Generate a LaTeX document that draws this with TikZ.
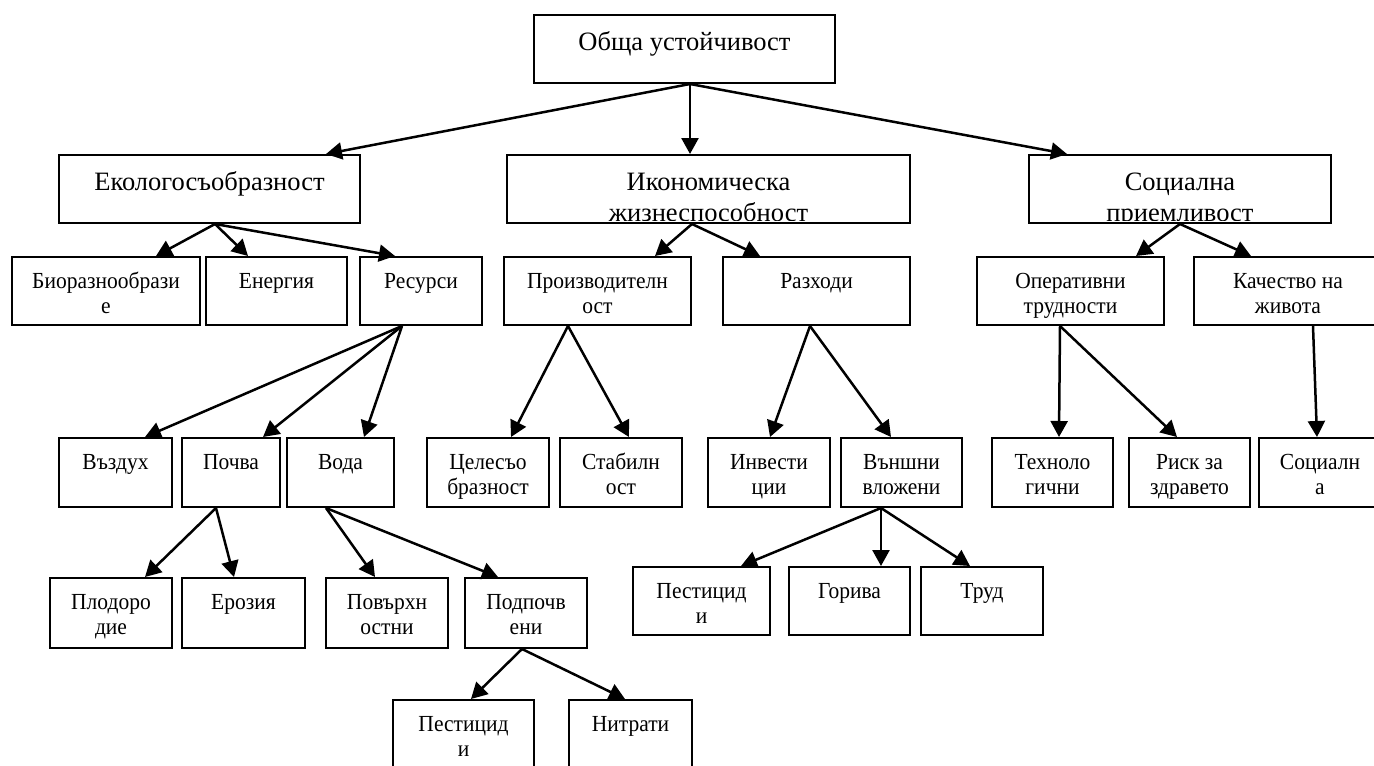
\documentclass[tikz,border=0pt]{standalone}
\usepackage{fontspec}
\setmainfont{Liberation Serif}
\newfontfamily\narrowserif[FakeStretch=0.935]{Liberation Serif}
\usetikzlibrary{arrows.meta}
\tikzset{
  box/.style={draw, line width=2pt, inner sep=0pt, anchor=north west},
  arr/.style={draw, line width=2.5pt, -{Triangle[length=16pt,width=17pt]}},
  stxt/.style={font=\narrowserif\fontsize{23}{25}\selectfont, align=center, inner sep=0pt, anchor=north, yshift=-14.5pt},
  ltxt/.style={font=\fontsize{26.5}{31}\selectfont, align=center, inner sep=0pt, anchor=north, yshift=-14.3pt},
}
\newcommand\mkbox[7]{\node[box, minimum width=#4pt, minimum height=#5pt] (#1) at (#2,#3) {};
  \node[#6] (#1-t) at (#1.north) {\strut #7};}
\newcommand\linkA[4]{\draw[arr] ([xshift=#2pt]#1.south west) -- ([xshift=#4pt]#3.north west);}
\begin{document}
\begin{tikzpicture}[x=1pt, y=-1pt]
\clip (0,0) rectangle (1374,766);
\fill[white] (0,0) rectangle (1374,766);
% level 0 and 1
\mkbox{top}{533}{14}{301}{68}{ltxt}{Обща устойчивост}
\mkbox{eko}{58}{154}{301}{68}{ltxt}{Екологосъобразност}
\node[box, minimum width=403pt, minimum height=68pt] (ikon) at (506,154) {};
\begin{scope}
  \clip ([xshift=1pt]ikon.north west) rectangle ([xshift=-1pt,yshift=4pt]ikon.south east);
  \node[ltxt] (ikon-t) at (ikon.north) {\strut Икономическа\\жизнеспособност};
\end{scope}
\node[box, minimum width=302pt, minimum height=68pt] (soc) at (1028,154) {};
\begin{scope}
  \clip ([xshift=1pt]soc.north west) rectangle ([xshift=-1pt,yshift=4pt]soc.south east);
  \node[ltxt] (soc-t) at (soc.north) {\strut Социална\\приемливост};
\end{scope}
% level 2
\mkbox{bio}{11}{256}{188}{68}{stxt}{Биоразнообрази\\е}
\mkbox{ener}{205}{256}{141}{68}{stxt}{Енергия}
\mkbox{res}{359}{256}{122}{68}{stxt}{Ресурси}
\mkbox{proiz}{503}{256}{187}{68}{stxt}{Производителн\\ост}
\mkbox{razh}{722}{256}{187}{68}{stxt}{Разходи}
\mkbox{oper}{976}{256}{187}{68}{stxt}{Оперативни\\трудности}
\mkbox{kach}{1193}{256}{188}{68}{stxt}{Качество на\\живота}
% level 3
\mkbox{vazd}{58}{437}{113}{69}{stxt}{Въздух}
\mkbox{pochva}{181}{437}{98}{69}{stxt}{Почва}
\mkbox{voda}{286}{437}{107}{69}{stxt}{Вода}
\mkbox{cel}{426}{437}{122}{69}{stxt}{Целесъо\\бразност}
\mkbox{stab}{559}{437}{122}{69}{stxt}{Стабилн\\ост}
\mkbox{inv}{707}{437}{122}{69}{stxt}{Инвести\\ции}
\mkbox{vansh}{840}{437}{121}{69}{stxt}{Външни\\вложени}
\mkbox{tehn}{991}{437}{121}{69}{stxt}{Техноло\\гични}
\mkbox{risk}{1128}{437}{121}{69}{stxt}{Риск за\\здравето}
\mkbox{socl}{1258}{437}{122}{69}{stxt}{Социалн\\а}
% level 4
\mkbox{plod}{49}{577}{122}{70}{stxt}{Плодоро\\дие}
\mkbox{eroz}{181}{577}{123}{70}{stxt}{Ерозия}
\mkbox{povr}{325}{577}{122}{70}{stxt}{Повърхн\\остни}
\mkbox{podp}{464}{577}{122}{70}{stxt}{Подпочв\\ени}
\mkbox{pesta}{632}{566}{137}{68}{stxt}{Пестицид\\и}
\mkbox{goriva}{788}{566}{121}{68}{stxt}{Горива}
\mkbox{trud}{920}{566}{122}{68}{stxt}{Труд}
% level 5
\mkbox{pestb}{392}{699}{141}{80}{stxt}{Пестицид\\и}
\mkbox{nitr}{568}{699}{123}{80}{stxt}{Нитрати}
% connectors
\linkA{top}{157}{eko}{268}
\linkA{top}{157}{ikon}{184}
\linkA{top}{157}{soc}{39}
\linkA{eko}{157}{bio}{145}
\linkA{eko}{157}{ener}{43}
\linkA{eko}{157}{res}{36}
\linkA{ikon}{186}{proiz}{152}
\linkA{ikon}{186}{razh}{38}
\linkA{soc}{152}{oper}{160}
\linkA{soc}{152}{kach}{58}
\linkA{res}{43}{vazd}{87}
\linkA{res}{43}{pochva}{82}
\linkA{res}{43}{voda}{78}
\linkA{proiz}{65}{cel}{85}
\linkA{proiz}{65}{stab}{70}
\linkA{razh}{88}{inv}{63}
\linkA{razh}{88}{vansh}{51}
\linkA{oper}{84}{tehn}{68}
\linkA{oper}{84}{risk}{49}
\linkA{kach}{120}{socl}{59}
\linkA{pochva}{35}{plod}{96}
\linkA{pochva}{35}{eroz}{53}
\linkA{voda}{40}{povr}{50}
\linkA{voda}{40}{podp}{34}
\linkA{vansh}{41}{pesta}{109}
\linkA{vansh}{41}{goriva}{93}
\linkA{vansh}{41}{trud}{50}
\linkA{podp}{58}{pestb}{79}
\linkA{podp}{58}{nitr}{57}
\end{tikzpicture}
\end{document}
